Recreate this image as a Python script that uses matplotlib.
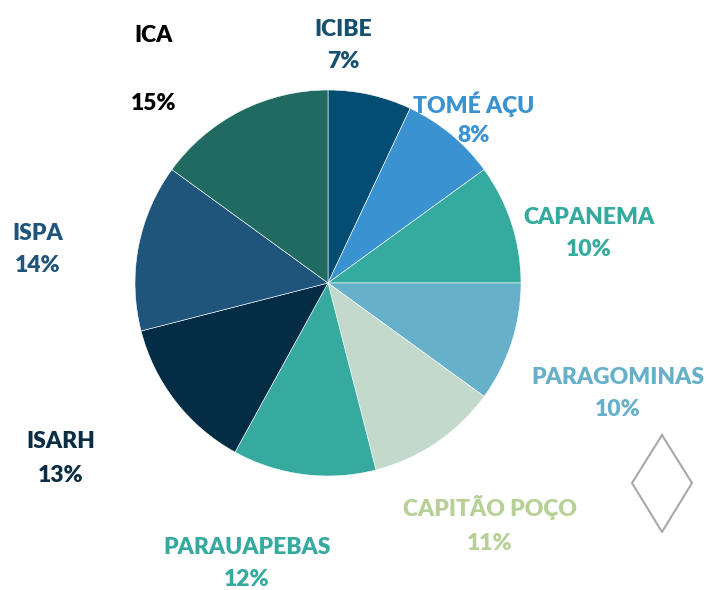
import matplotlib
matplotlib.use("Agg")
from matplotlib import pyplot as plt

plt.rcParams['font.family'] = ['Lato', 'DejaVu Sans']

names = ['ICIBE', 'TOMÉ AÇU', 'CAPANEMA', 'PARAGOMINAS', 'CAPITÃO POÇO',
         'PARAUAPEBAS', 'ISARH', 'ISPA', 'ICA']
shares = [7, 8, 10, 10, 11, 12, 13, 14, 15]

slice_colors = ['#034d73', '#3a92d0', '#35aa9e', '#66b0ca', '#c2d9cb',
                '#36aa9f', '#032c45', '#20557b', '#206a61']
text_colors = ['#17506f', '#3a92d0', '#35aa9e', '#66b0ca', '#b7d096',
               '#36aa9f', '#0b2e45', '#20557b', '#000000']

# label positions in pixels (x, y from top) for name and percentage
name_pos = [(343, 30), (474, 104), (589, 217), (618, 377), (490, 508),
            (247, 548), (61, 442), (38, 233), (154, 35)]
pct_pos = [(343, 62), (474, 136), (589, 249), (618, 409), (490, 543),
           (247, 580), (61, 475), (38, 266), (154, 103)]

W, H = 707, 590
fig = plt.figure(figsize=(W / 100, H / 100), dpi=100)
ax = fig.add_axes([0, 0, 1, 1])

ax.pie(shares, colors=slice_colors, startangle=90, counterclock=False,
       center=(328, H - 283), radius=193,
       wedgeprops=dict(edgecolor='white', linewidth=0.4), frame=True)
ax.set_xlim(0, W)
ax.set_ylim(0, H)
ax.set_aspect('equal')
ax.axis('off')

for n, s, c, (nx, ny), (px, py) in zip(names, shares, text_colors, name_pos, pct_pos):
    ax.text(nx, H - ny, n, color=c, fontsize=16.5, fontweight='heavy',
            ha='center', va='center')
    ax.text(px, H - py, f'{s}%', color=c, fontsize=16.5, fontweight='heavy',
            ha='center', va='center')

# decorative diamond
ax.plot([662, 692, 662, 632, 662], [H - 435, H - 483, H - 532, H - 483, H - 435],
        color='#a8a8a8', linewidth=1.5)

fig.savefig('out.png', dpi=100)
